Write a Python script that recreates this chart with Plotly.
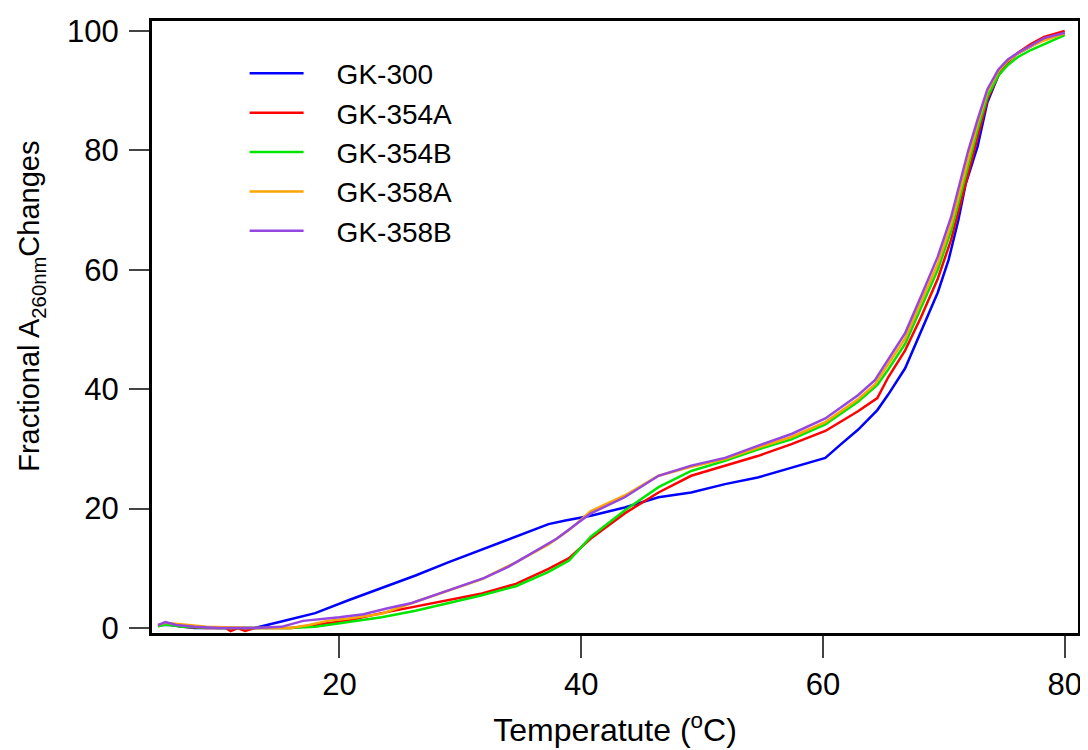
import plotly.graph_objects as go

# ---- data ----
names = ["GK-300", "GK-354A", "GK-354B", "GK-358A", "GK-358B"]
colors = ["#0000ff", "#ff0000", "#00e600", "#ffa500", "#9646e0"]

gk300_t = [5, 6, 8, 10, 12, 13, 15.2, 18, 20.8, 23.5, 26.3, 29, 31.8, 34.6, 37.3, 38.7, 40.8,
           43.6, 46.4, 49.1, 51.9, 54.6, 57.4, 60.2, 61.5, 62.9, 64.5, 65.4, 66.8, 68.2, 69.5,
           70.4, 71.2, 71.8, 72.8, 73.6, 74.5, 75.3, 76.1, 77.2, 78.3, 79, 80]
gk300_v = [0.5, 0.5, 0, 0, 0, 0, 1.1, 2.5, 4.7, 6.7, 8.8, 11.0, 13.2, 15.4, 17.4, 18.0, 18.8,
           20.2, 21.9, 22.7, 24.1, 25.2, 26.9, 28.5, 30.8, 33.2, 36.5, 39.1, 43.5, 50.1, 56.2,
           61.7, 68.3, 74.3, 80.7, 88.0, 92.5, 95.0, 96.2, 97.4, 98.6, 99.0, 99.6]

gk354a_t = [5, 5.6, 7, 9, 10.6, 11, 11.6, 12.2, 13, 16, 18, 20.8, 23.5, 26.3, 29, 31.8, 34.6,
            37.3, 39, 40.8, 43.6, 46.4, 49.1, 51.9, 54.6, 57.4, 60.2, 62.9, 64.5, 65.4, 66.8,
            68.1, 69.5, 70.6, 71.3, 72, 72.8, 73.6, 74.5, 75.3, 76.1, 77.2, 78.3, 80]
gk354a_v = [0.3, 0.8, 0.2, 0, 0, -0.5, 0, -0.5, 0, 0, 0.5, 1.3, 2.5, 3.6, 4.6, 5.8, 7.4,
            9.9, 11.7, 15.0, 19.2, 22.7, 25.5, 27.2, 28.8, 30.8, 33.0, 36.3, 38.5, 42.0, 46.5,
            52.0, 58.5, 65.0, 70.5, 76.0, 82.5, 88.5, 92.5, 94.8, 96.3, 97.8, 99.0, 100.0]

gk354b_t = [5, 5.6, 7, 10, 14, 16, 18, 19, 20.8, 23.5, 26.3, 29, 31.8, 34.6, 37.3, 39, 40.8,
            43.6, 46.4, 49.1, 51.9, 54.6, 57.4, 60.2, 62.9, 64.5, 65.4, 66.8, 68.1, 69.5, 70.6,
            71.3, 72, 72.8, 73.6, 74.5, 75.3, 76.1, 77.2, 78.3, 80]
gk354b_v = [0.3, 0.6, 0.2, 0, 0, 0, 0.2, 0.5, 1.0, 1.8, 2.9, 4.2, 5.5, 7.0, 9.4, 11.3, 15.3,
            19.7, 23.6, 26.3, 28.0, 29.9, 31.6, 34.1, 37.9, 40.7, 43.3, 47.6, 53.5, 60.0, 66.5,
            72.0, 77.5, 83.5, 89.0, 92.5, 94.3, 95.6, 96.8, 97.8, 99.3]

gk358a_t = [5, 5.6, 7.5, 9, 13, 16, 17.5, 19, 20.8, 23.5, 26.3, 29, 31.8, 34.6, 37.3, 39, 40.8,
            43.6, 46.4, 49.1, 51.9, 54.6, 57.4, 60.2, 62.9, 64.3, 65.4, 66.8, 68.1, 69.5, 70.6,
            71.3, 72.0, 72.8, 73.6, 74.5, 75.3, 76.1, 77.2, 78.3, 80]
gk358a_v = [0.5, 0.9, 0.5, 0.2, 0, 0, 0.5, 1.2, 1.6, 2.4, 4.4, 6.3, 8.2, 11.0, 14.0, 16.4, 19.6,
            22.2, 25.5, 27.0, 28.3, 30.2, 32.0, 34.5, 38.3, 40.8, 44.2, 48.5, 54.5, 61.0, 67.5,
            73.0, 78.5, 84.5, 89.8, 93.2, 95.0, 96.2, 97.4, 98.4, 99.6]

gk358b_t = [5, 5.6, 6.5, 8, 10, 13, 15.2, 17, 20, 22, 24, 26, 28, 30, 32, 34, 36, 38, 40, 40.8,
            43.6, 46.4, 49.1, 51.9, 54.6, 57.4, 60.2, 62.9, 64.3, 65.4, 66.8, 68.1, 69.5, 70.6,
            71.3, 72.0, 72.8, 73.6, 74.5, 75.3, 76.1, 77.2, 78.3, 80]
gk358b_v = [0.5, 1.0, 0.5, 0.2, 0, 0, 0.2, 1.2, 1.8, 2.3, 3.3, 4.2, 5.6, 7.0, 8.4, 10.3, 12.6,
            15.0, 18.0, 19.2, 21.9, 25.5, 27.2, 28.5, 30.5, 32.5, 35.1, 39.0, 41.5, 45.0, 49.4,
            55.5, 62.2, 68.8, 74.3, 79.8, 85.2, 90.2, 93.5, 95.2, 96.3, 97.6, 98.8, 99.7]

series_t = [gk300_t, gk354a_t, gk354b_t, gk358a_t, gk358b_t]
series_v = [gk300_v, gk354a_v, gk354b_v, gk358a_v, gk358b_v]

x_ticks = [20, 40, 60, 80]
y_ticks = [0, 20, 40, 60, 80, 100]
x_title = "Temperatute (<sup>o</sup>C)"
y_title = "Fractional A<sub>260nm</sub>Changes"

FONT = "Liberation Sans, Arial, sans-serif"
PAD = "\u2002\u2002"  # gap between legend line and label, as in the reference

fig = go.Figure()
for name, col, t, v in zip(names, colors, series_t, series_v):
    fig.add_trace(go.Scatter(x=t, y=v, mode="lines", name=PAD + name,
                             line=dict(color=col, width=2.5)))

fig.update_layout(
    width=1080, height=742,
    margin=dict(l=144, r=6, t=7, b=117),
    plot_bgcolor="white", paper_bgcolor="white",
    font=dict(family=FONT, color="black", size=31),
    showlegend=True,
    legend=dict(x=0.1, y=0.955, xanchor="left", yanchor="top",
                bgcolor="rgba(0,0,0,0)", font=dict(size=28),
                itemwidth=54, tracegroupgap=0),
    annotations=[dict(text=y_title, xref="paper", yref="paper", x=-0.130, y=0.534,
                      xanchor="center", yanchor="middle", textangle=-90,
                      showarrow=False, font=dict(size=29))],
)
fig.update_xaxes(
    range=[4.5, 81.1], tickvals=x_ticks, ticks="outside", ticklen=22, tickwidth=2,
    showline=True, linewidth=3, linecolor="black", mirror=True, showgrid=False,
    zeroline=False, tickfont=dict(size=31),
    title=dict(text=x_title, font=dict(size=32), standoff=18),
)
fig.update_yaxes(
    range=[-0.83, 101.66], tickvals=y_ticks, ticks="outside", ticklen=20, tickwidth=2,
    showline=True, linewidth=3, linecolor="black", mirror=True, showgrid=False,
    zeroline=False, tickfont=dict(size=31), ticklabelstandoff=4,
)

fig.write_html("out.html")
